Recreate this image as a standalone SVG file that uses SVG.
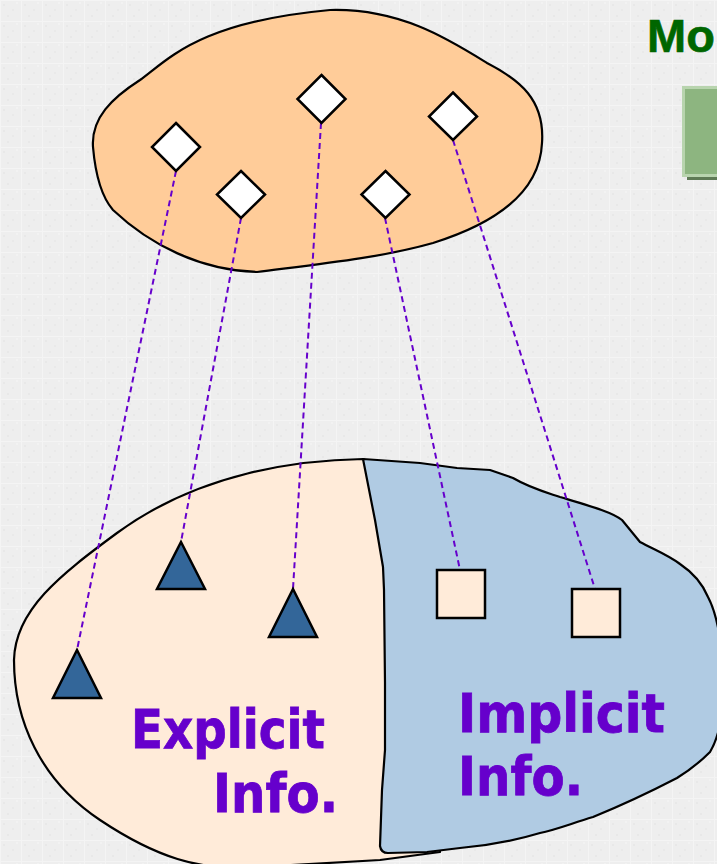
<svg xmlns="http://www.w3.org/2000/svg" width="717" height="864" viewBox="0 0 717 864">
  <defs>
    <pattern id="bgGrid" width="21" height="21" patternUnits="userSpaceOnUse">
      <rect width="21" height="21" fill="#EEEEEE"/>
      <rect x="3" y="4" width="2" height="2" fill="#E8E8E8"/>
      <rect x="12" y="9" width="2" height="2" fill="#E9E9E9"/>
      <rect x="7" y="15" width="2" height="2" fill="#E8E8E8"/>
      <rect x="16" y="2" width="2" height="2" fill="#F2F2F2"/>
      <path d="M0 0.5H21M0.5 0V21" stroke="#F4F4F4" stroke-width="1.2"/>
    </pattern>
    <style>
      .blob { stroke: #000; stroke-width: 2.2; stroke-linejoin: round; }
      .diamond { fill: #FFFFFF; stroke: #000; stroke-width: 2.5; }
      .tri { fill: #336699; stroke: #000; stroke-width: 2.5; stroke-linejoin: miter; }
      .sq { fill: #FFEBD9; stroke: #000; stroke-width: 2.5; }
      .link { fill: none; stroke: #6600CC; stroke-width: 2; stroke-dasharray: 6 4; }
      .label { font-family: "DejaVu Sans", Verdana, sans-serif; font-weight: bold; font-size: 53px; fill: #6600CC; stroke: #6600CC; stroke-width: 0.8; }
    </style>
  </defs>

  <!-- textured background -->
  <rect width="717" height="864" fill="url(#bgGrid)"/>

  <!-- heading and box at the top right -->
  <g id="heading">
    <text x="647" y="52" font-family="Liberation Sans, Arial, sans-serif" font-weight="bold" font-size="47" fill="#006600" stroke="#006600" stroke-width="0.6">Mo</text>
  </g>
  <g id="green-box">
    <rect x="687" y="91" width="50" height="89" fill="#5E7A55"/>
    <rect x="683.5" y="87.5" width="50" height="88" fill="#8DB580" stroke="#B8D4AE" stroke-width="3"/>
  </g>

  <!-- upper cloud with diamond elements -->
  <g id="upper-cloud">
    <path class="blob" fill="#FFCC99" d="M93,147 C91,118 112,98 140,80 C170,58 200,22 330,10 C400,8 450,40 487,63 C520,80 545,100 542,143 C540,190 500,222 433,243 C380,258 320,264 257,272 C200,270 150,245 113,210 C100,195 95,170 93,147 Z"/>
  </g>

  <!-- lower region: explicit part -->
  <g id="explicit-region">
    <path class="blob" fill="#FFEBD9" d="M363,459 C300,460 200,472 117,533 C60,575 15,610 14,660 C14,720 40,780 100,820 C160,860 200,868 240,868 L380,860 L440,852 L440,600 L380,470 Z"/>
  </g>

  <!-- lower region: implicit part -->
  <g id="implicit-region">
    <path class="blob" fill="#B0CBE3" d="M363,459 L420,463 L457,468 L490,470 L513,478 C530,488 545,492 560,497 C590,506 612,512 622,520 L640,542 C655,550 668,555 680,564 C695,574 703,585 708,597 C716,612 722,640 724,680 C724,710 720,735 710,752 C700,762 690,770 677,778 C650,792 620,806 593,817 C570,824 555,830 540,833 C510,842 485,846 460,848 L427,852 L388,853 Q381,853 380,846 L382,790 L385,750 L385,683 L384,590 L383,567 L375,520 Z"/>
  </g>

  <!-- dashed mapping connectors -->
  <g id="connectors">
    <line class="link" x1="176" y1="171" x2="77" y2="650"/>
    <line class="link" x1="241" y1="218" x2="181" y2="542"/>
    <line class="link" x1="321" y1="123" x2="293" y2="589"/>
    <line class="link" x1="385" y1="218" x2="460" y2="570"/>
    <line class="link" x1="453" y1="140" x2="595" y2="589"/>
  </g>

  <!-- diamonds -->
  <g id="diamond-1"><path class="diamond" d="M176,123 L200,147 L176,171 L152,147 Z"/></g>
  <g id="diamond-2"><path class="diamond" d="M241,171 L265,194.5 L241,218 L217,194.5 Z"/></g>
  <g id="diamond-3"><path class="diamond" d="M321.5,75 L345.5,99 L321.5,123 L297.5,99 Z"/></g>
  <g id="diamond-4"><path class="diamond" d="M385.5,171 L409.5,194.5 L385.5,218 L361.5,194.5 Z"/></g>
  <g id="diamond-5"><path class="diamond" d="M453,92.5 L477,116.5 L453,140 L429,116.5 Z"/></g>

  <!-- triangles -->
  <g id="triangle-1"><path class="tri" d="M77,650 L101,698 L53,698 Z"/></g>
  <g id="triangle-2"><path class="tri" d="M181,542 L205,589 L157,589 Z"/></g>
  <g id="triangle-3"><path class="tri" d="M293,589 L317,637 L269,637 Z"/></g>

  <!-- squares -->
  <g id="square-1"><rect class="sq" x="437" y="570" width="48" height="48"/></g>
  <g id="square-2"><rect class="sq" x="572" y="589" width="48" height="48"/></g>

  <!-- labels -->
  <g id="explicit-label">
    <text class="label" x="131" y="748" textLength="194" lengthAdjust="spacingAndGlyphs">Explicit</text>
    <text class="label" x="213" y="812" textLength="125" lengthAdjust="spacingAndGlyphs">Info.</text>
  </g>
  <g id="implicit-label">
    <text class="label" x="458" y="732" textLength="207" lengthAdjust="spacingAndGlyphs">Implicit</text>
    <text class="label" x="458" y="795" textLength="125" lengthAdjust="spacingAndGlyphs">Info.</text>
  </g>
</svg>
